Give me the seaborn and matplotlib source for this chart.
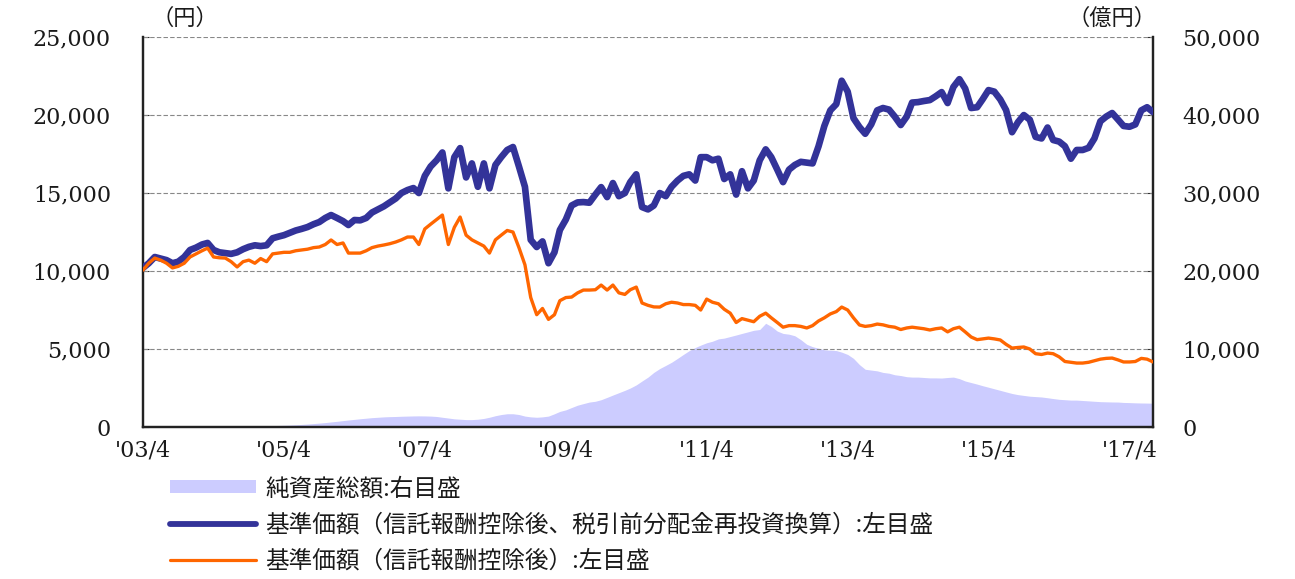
import numpy as np
import pandas as pd
import matplotlib
matplotlib.use("Agg")
import matplotlib.pyplot as plt
import seaborn as sns
from matplotlib.ticker import FuncFormatter, FixedLocator
from matplotlib.patches import Patch
from matplotlib.lines import Line2D

# ---------------- data (monthly, 2003/4 .. 2017/8) ----------------
start_month = "2003-04-01"

# 基準価額(信託報酬控除後、税引前分配金再投資換算) [円]
nav_reinvested = [
    10200, 10500, 10900, 10800, 10700, 10500, 10600, 10900, 11350, 11500, 11700, 11800,
    11350, 11200, 11150, 11100, 11200, 11400, 11550, 11650, 11600, 11650, 12100, 12200,
    12300, 12450, 12600, 12700, 12820, 13000, 13140, 13400, 13590, 13400, 13200, 12950,
    13270, 13250, 13400, 13750, 13950, 14150, 14400, 14650, 15000, 15190, 15320, 15000,
    16100, 16700, 17100, 17600, 15300, 17300, 17880, 16000, 16900, 15400, 16900, 15300,
    16800, 17300, 17760, 17950, 16700, 15400, 12000, 11540, 11900, 10500, 11200, 12630,
    13300, 14200, 14400, 14420, 14380, 14900, 15380, 14740, 15640, 14800, 15000, 15700,
    16200, 14100, 13950, 14200, 15000, 14800, 15400, 15800, 16100, 16200, 15800, 17300,
    17300, 17100, 17200, 15900, 16200, 14900, 16400, 15300, 15800, 17100, 17800, 17300,
    16500, 15700, 16500, 16800, 17000, 16950, 16900, 18000, 19300, 20300, 20700, 22200,
    21500, 19800, 19230, 18800, 19400, 20300, 20450, 20350, 19900, 19360, 19900, 20800,
    20830, 20900, 20960, 21200, 21470, 20770, 21800, 22300, 21700, 20450, 20500, 21000,
    21600, 21500, 21000, 20320, 18900, 19550, 20000, 19700, 18600, 18500, 19200, 18400,
    18300, 18000, 17200, 17760, 17760, 17900, 18500, 19600, 19900, 20130, 19700, 19300,
    19250, 19400, 20300, 20500, 20190,
]

# 基準価額(信託報酬控除後) [円]
nav = [
    10060, 10500, 10830, 10700, 10500, 10200, 10300, 10500, 10900, 11100, 11300, 11470,
    10900, 10850, 10830, 10600, 10260, 10600, 10700, 10500, 10800, 10600, 11100, 11150,
    11200, 11200, 11300, 11350, 11400, 11500, 11540, 11700, 11990, 11700, 11800, 11150,
    11150, 11150, 11300, 11500, 11600, 11670, 11750, 11860, 12000, 12180, 12180, 11700,
    12700, 13000, 13300, 13590, 11700, 12800, 13460, 12300, 12000, 11800, 11600, 11150,
    12000, 12300, 12600, 12500, 11500, 10400, 8300, 7200, 7600, 6900, 7200, 8100,
    8300, 8330, 8600, 8780, 8780, 8800, 9100, 8780, 9100, 8600, 8500, 8800,
    8970, 7950, 7800, 7700, 7690, 7900, 8000, 7950, 7850, 7850, 7800, 7500,
    8200, 8000, 7900, 7550, 7300, 6700, 6950, 6850, 6750, 7100, 7300, 7000,
    6700, 6400, 6500, 6500, 6450, 6350, 6500, 6800, 7000, 7250, 7400, 7690,
    7500, 7000, 6540, 6450, 6500, 6600, 6550, 6450, 6400, 6250, 6350, 6400,
    6350, 6300, 6220, 6300, 6350, 6100, 6300, 6400, 6100, 5770, 5600, 5650,
    5700, 5650, 5580, 5300, 5060, 5100, 5130, 5000, 4700, 4650, 4740, 4700,
    4500, 4200, 4150, 4100, 4100, 4150, 4250, 4350, 4400, 4420, 4300, 4170,
    4170, 4200, 4400, 4350, 4170,
]

# 純資産総額 [億円]
net_assets = [
    0, 10, 20, 30, 40, 40, 50, 50, 60, 60, 70, 80,
    80, 90, 100, 100, 110, 120, 130, 140, 150, 160, 180, 200,
    220, 250, 290, 330, 380, 440, 500, 570, 650, 730, 820, 900,
    980, 1060, 1130, 1200, 1250, 1300, 1330, 1350, 1380, 1400, 1420, 1430,
    1420, 1400, 1350, 1250, 1150, 1050, 1000, 950, 950, 1000, 1100, 1250,
    1450, 1600, 1700, 1700, 1600, 1400, 1300, 1250, 1300, 1400, 1700, 2000,
    2200, 2500, 2800, 3000, 3200, 3300, 3500, 3800, 4100, 4400, 4700, 5000,
    5400, 5900, 6400, 7000, 7500, 7900, 8300, 8800, 9300, 9800, 10200, 10500,
    10800, 11000, 11300, 11400, 11600, 11800, 12000, 12200, 12400, 12500, 13300, 12900,
    12300, 12000, 11900, 11700, 11200, 10600, 10300, 10100, 9900, 9850, 9800, 9600,
    9300, 8800, 8000, 7400, 7300, 7200, 7000, 6900, 6700, 6600, 6450, 6400,
    6400, 6350, 6300, 6300, 6280, 6350, 6400, 6200, 5900, 5700, 5500, 5300,
    5100, 4900, 4700, 4500, 4300, 4150, 4050, 3950, 3900, 3850, 3750, 3650,
    3550, 3500, 3450, 3450, 3400, 3350, 3300, 3250, 3230, 3210, 3200, 3150,
    3130, 3100, 3080, 3070, 3050,
]

x_tick_dates = ["2003-04-01", "2005-04-01", "2007-04-01", "2009-04-01",
                "2011-04-01", "2013-04-01", "2015-04-01", "2017-04-01"]
x_tick_labels = ["'03/4", "'05/4", "'07/4", "'09/4", "'11/4", "'13/4", "'15/4", "'17/4"]
left_ticks = [0, 5000, 10000, 15000, 20000, 25000]
right_ticks = [0, 10000, 20000, 30000, 40000, 50000]

legend_labels = ["純資産総額:右目盛",
                 "基準価額（信託報酬控除後、税引前分配金再投資換算）:左目盛",
                 "基準価額（信託報酬控除後）:左目盛"]
left_unit = "（円）"
right_unit = "（億円）"

# ---------------- frame ----------------
dates = pd.date_range(start_month, periods=len(nav), freq="MS")
df = pd.DataFrame({"date": dates, "nav_reinvested": nav_reinvested,
                   "nav": nav, "net_assets": net_assets})

BLUE = "#333399"
ORANGE = "#FF6600"
LAVENDER = "#CCCCFF"
TXT = "#1a1a1a"
CJK = ["Noto Sans CJK JP", "DejaVu Sans"]

sns.set_theme(style="white")
plt.rcParams["font.family"] = CJK

fig = plt.figure(figsize=(12.95, 5.79), dpi=100)
# ax_area: drawn first (background), ticks on the right (億円)
ax_area = fig.add_axes([0.1104, 0.2625, 0.7800, 0.6735])
ax = ax_area.twinx()  # lines, ticks on the left (円)

ax_area.fill_between(df["date"], 0, df["net_assets"], color=LAVENDER, lw=0, zorder=1)
sns.lineplot(data=df, x="date", y="nav_reinvested", ax=ax, color=BLUE, lw=4.8, zorder=3)
sns.lineplot(data=df, x="date", y="nav", ax=ax, color=ORANGE, lw=2.4, zorder=4)

xmin, xmax = dates[0], dates[-1]
for a in (ax_area, ax):
    a.set_xlim(xmin, xmax)
    a.set_xlabel("")
    a.set_ylabel("")
ax_area.set_ylim(0, 50000)
ax.set_ylim(0, 25000)

# swap sides: area axis -> right, line axis -> left
ax_area.yaxis.tick_right()
ax.yaxis.tick_left()

ax.yaxis.set_major_locator(FixedLocator(left_ticks))
ax_area.yaxis.set_major_locator(FixedLocator(right_ticks))
fmt = FuncFormatter(lambda v, p: f"{v:,.0f}")
ax.yaxis.set_major_formatter(fmt)
ax_area.yaxis.set_major_formatter(fmt)

ax_area.set_xticks(pd.to_datetime(x_tick_dates))
ax_area.set_xticklabels(x_tick_labels)

for lab in ax.get_yticklabels() + ax_area.get_yticklabels() + ax_area.get_xticklabels():
    lab.set_fontfamily("DejaVu Serif")
    lab.set_fontsize(16)
    lab.set_color(TXT)

ax.tick_params(axis="y", direction="in", length=4, width=0.8, pad=23, colors="#333333", labelcolor=TXT)
ax_area.tick_params(axis="y", direction="in", length=4, width=0.8, pad=21, colors="#333333", labelcolor=TXT)
ax_area.tick_params(axis="x", direction="in", length=5, width=0.8, pad=9, colors="#333333", labelcolor=TXT)

# grid (dashed)
for v in left_ticks[1:]:
    ax.axhline(v, color="#888888", lw=0.8, ls=(0, (4, 2)), zorder=2)
ax_area.grid(False)
ax.grid(False)

# spines
for a in (ax_area, ax):
    a.spines["top"].set_visible(False)
    for s in ("left", "right", "bottom"):
        a.spines[s].set_visible(True)
        a.spines[s].set_color("#222222")
        a.spines[s].set_linewidth(1.6)

# unit labels
fig.text(0.143, 0.968, left_unit, fontsize=16, color=TXT, ha="center", va="center", family=CJK)
fig.text(0.859, 0.968, right_unit, fontsize=16, color=TXT, ha="center", va="center", family=CJK)

# legend
handles = [Patch(facecolor=LAVENDER, edgecolor="none"),
           Line2D([], [], color=BLUE, lw=4.2),
           Line2D([], [], color=ORANGE, lw=2.3)]
fig.legend(handles, legend_labels, loc="upper left", bbox_to_anchor=(0.131, 0.176),
           frameon=False, borderpad=0, borderaxespad=0, handlelength=3.65, handleheight=0.45,
           handletextpad=0.4, labelspacing=0.55,
           prop={"family": CJK, "size": 17},
           labelcolor=TXT)

fig.savefig("out.png", dpi=100)
